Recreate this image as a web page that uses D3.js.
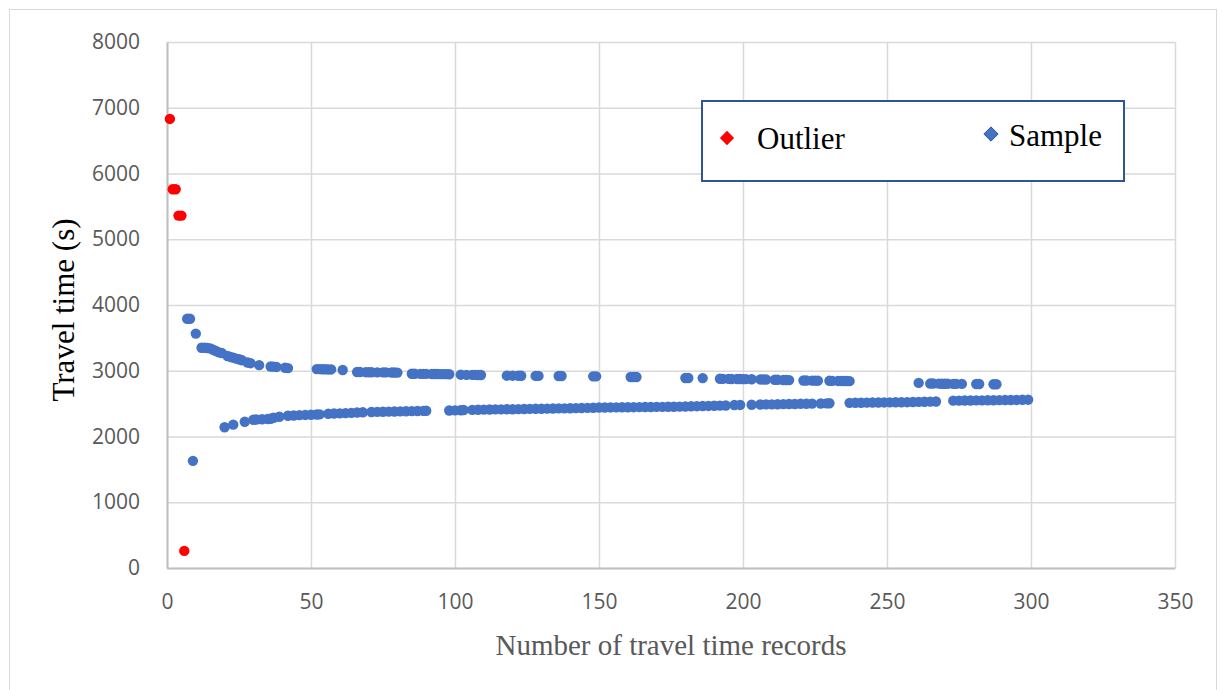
<!DOCTYPE html>
<html>
<head>
<meta charset="utf-8">
<script src="https://cdn.jsdelivr.net/npm/d3@7"></script>
<style>
  html, body { margin: 0; padding: 0; background: #ffffff; }
  svg { display: block; }
</style>
</head>
<body>
<svg id="chart" width="1223" height="690"></svg>
<script>
// Tick values
const xTicks = [0, 50, 100, 150, 200, 250, 300, 350];
const yTicks = [0, 1000, 2000, 3000, 4000, 5000, 6000, 7000, 8000];

// Outlier records
const outlierX = [1, 2, 3, 4, 5, 6];
const outlierY = [6830, 5760, 5760, 5360, 5360, 260];

// Sample records: upper branch
const upperX = [7, 8, 10, 12, 13, 14, 15, 16, 17, 18, 19, 21, 22, 23, 24, 25, 26, 28, 29, 32, 36, 37, 38, 41, 42,
  52, 53, 54, 55, 56, 57, 61, 66, 67, 69, 70, 71, 73, 75, 76, 78, 79, 80,
  85, 86, 88, 89, 90, 92, 93, 94, 95, 96, 97, 98, 102, 104, 106, 107, 108, 109,
  118, 120, 122, 123, 128, 129, 136, 137, 148, 149, 161, 162, 163, 180, 181, 186,
  192, 193, 195, 196, 198, 199, 200, 201, 203, 206, 207, 208, 211, 212, 214, 215, 216,
  221, 222, 224, 225, 226, 230, 231, 233, 234, 235, 236, 237,
  261, 265, 266, 268, 269, 270, 271, 273, 274, 276, 281, 282, 287, 288];
const upperY = [3790, 3790, 3565, 3350, 3350, 3345, 3340, 3320, 3300, 3280, 3270, 3225, 3210, 3200, 3185, 3175, 3160, 3125, 3115, 3085, 3065, 3062, 3058, 3045, 3040,
  3025, 3025, 3022, 3022, 3020, 3020, 3012, 2980, 2980, 2978, 2978, 2977, 2976, 2975, 2975, 2974, 2973, 2972,
  2955, 2955, 2953, 2952, 2952, 2950, 2950, 2950, 2949, 2948, 2948, 2947, 2940, 2938, 2937, 2937, 2936, 2935,
  2925, 2925, 2924, 2923, 2922, 2922, 2920, 2920, 2915, 2915, 2905, 2905, 2905, 2890, 2890, 2888,
  2878, 2877, 2876, 2875, 2874, 2874, 2873, 2872, 2870, 2868, 2868, 2867, 2862, 2862, 2860, 2860, 2858,
  2852, 2851, 2850, 2850, 2849, 2847, 2846, 2845, 2845, 2844, 2843, 2842,
  2815, 2805, 2805, 2804, 2803, 2802, 2802, 2801, 2800, 2800, 2798, 2798, 2795, 2795];

// Sample records: lower branch
const lowerX = [9, 20, 23, 27, 30, 31, 33, 35, 36, 37, 39,
  42, 44, 46, 48, 50, 52, 53, 56, 58, 60, 62, 64, 66, 68, 71, 73, 75, 77,
  79, 81, 83, 85, 87, 89, 90, 98, 100, 102, 103,
  106, 108, 110, 112, 114, 116, 118, 120, 122, 124, 126, 128, 130, 132, 134, 136, 138, 140,
  142, 144, 146, 148, 150, 152, 154, 156, 158, 160, 162, 164, 166, 168, 170, 172, 174, 176, 178,
  180, 182, 184, 186, 188, 190, 192, 194, 197, 199, 203, 206, 208, 210, 212, 214, 216, 218, 220,
  222, 224, 227, 229, 230, 237, 239, 241, 243, 245, 247, 249, 251, 253, 255, 257, 259, 261, 263, 265, 267,
  273, 275, 277, 279, 281, 283, 285, 287, 289, 291, 293, 295, 297, 299];
const lowerY = [1630, 2140, 2180, 2225, 2255, 2258, 2262, 2266, 2270, 2285, 2300,
  2315, 2320, 2325, 2328, 2330, 2335, 2337, 2345, 2350, 2352, 2355, 2360, 2365, 2368, 2372, 2375, 2377, 2378,
  2380, 2382, 2384, 2386, 2388, 2390, 2392, 2395, 2398, 2400, 2402,
  2405, 2407, 2409, 2410, 2412, 2413, 2414, 2415, 2416, 2418, 2420, 2421, 2422, 2424, 2425, 2427, 2428, 2430,
  2432, 2434, 2436, 2438, 2440, 2441, 2442, 2443, 2444, 2445, 2446, 2447, 2448, 2449, 2450, 2451, 2452, 2453, 2455,
  2457, 2459, 2461, 2463, 2465, 2467, 2469, 2472, 2478, 2480, 2483, 2486, 2488, 2489, 2490, 2492, 2494, 2495, 2497,
  2498, 2500, 2502, 2504, 2505, 2512, 2513, 2514, 2515, 2516, 2517, 2518, 2519, 2520, 2521, 2522, 2524, 2526, 2528, 2530, 2532,
  2545, 2546, 2547, 2548, 2549, 2550, 2551, 2552, 2553, 2554, 2555, 2556, 2558, 2560];

const svg = d3.select("#chart");
const plot = { left: 167, right: 1175, top: 42, bottom: 568 };

const x = d3.scaleLinear().domain([0, 350]).range([plot.left, plot.right]);
const y = d3.scaleLinear().domain([0, 8000]).range([plot.bottom, plot.top]);
const fmt = d3.format("d");

// Chart frame
svg.append("rect")
  .attr("x", 9.5).attr("y", 9.5)
  .attr("width", 1207).attr("height", 700)
  .attr("fill", "#ffffff")
  .attr("stroke", "#d9d9d9").attr("stroke-width", 1);

// Gridlines
const gridX = svg.append("g")
  .attr("transform", `translate(0,${plot.bottom})`)
  .call(d3.axisBottom(x).tickValues(xTicks).tickSize(-(plot.bottom - plot.top)).tickFormat(""));
gridX.select(".domain").remove();
gridX.selectAll("line").attr("stroke", "#d9d9d9").attr("stroke-width", 1.5);

const gridY = svg.append("g")
  .attr("transform", `translate(${plot.left},0)`)
  .call(d3.axisLeft(y).tickValues(yTicks).tickSize(-(plot.right - plot.left)).tickFormat(""));
gridY.select(".domain").remove();
gridY.selectAll("line").attr("stroke", "#d9d9d9").attr("stroke-width", 1.5);

// Axis lines and tick labels
const tickFont = "'Open Sans', 'Liberation Sans', sans-serif";
const axX = svg.append("g")
  .attr("transform", `translate(0,${plot.bottom})`)
  .call(d3.axisBottom(x).tickValues(xTicks).tickFormat(fmt).tickSize(0).tickPadding(26).tickSizeOuter(0));
axX.select(".domain").attr("stroke", "#bfbfbf").attr("stroke-width", 2);
axX.selectAll("text")
  .attr("fill", "#595959").attr("font-family", tickFont).attr("font-size", 21);

const axY = svg.append("g")
  .attr("transform", `translate(${plot.left},0)`)
  .call(d3.axisLeft(y).tickValues(yTicks).tickFormat(fmt).tickSize(0).tickPadding(27).tickSizeOuter(0));
axY.select(".domain").attr("stroke", "#bfbfbf").attr("stroke-width", 2);
axY.selectAll("text")
  .attr("fill", "#595959").attr("font-family", tickFont).attr("font-size", 21);

// Axis titles
const serif = "'Liberation Serif', 'Times New Roman', serif";
svg.append("text")
  .attr("x", 671).attr("y", 655)
  .attr("text-anchor", "middle")
  .attr("font-family", serif)
  .attr("font-size", 29)
  .attr("fill", "#595959")
  .text("Number of travel time records");

svg.append("text")
  .attr("transform", "translate(74,310) rotate(-90)")
  .attr("text-anchor", "middle")
  .attr("font-family", serif)
  .attr("font-size", 31)
  .attr("fill", "#000000")
  .text("Travel time (s)");

// Points
const R = 5.2;
const sampleColor = "#4472c4";
const outlierColor = "#ff0000";

const pts = (xs, ys) => xs.map((v, i) => ({ x: v, y: ys[i] }));

svg.append("g").selectAll("circle")
  .data(pts(upperX, upperY).concat(pts(lowerX, lowerY)))
  .join("circle")
  .attr("cx", d => x(d.x)).attr("cy", d => y(d.y))
  .attr("r", R).attr("fill", sampleColor);

svg.append("g").selectAll("circle")
  .data(pts(outlierX, outlierY))
  .join("circle")
  .attr("cx", d => x(d.x)).attr("cy", d => y(d.y))
  .attr("r", R).attr("fill", outlierColor);

// Legend
const legend = svg.append("g");
legend.append("rect")
  .attr("x", 702).attr("y", 101)
  .attr("width", 422).attr("height", 80)
  .attr("fill", "#ffffff")
  .attr("stroke", "#2f5597").attr("stroke-width", 2);

const diamond = d3.symbol().type(d3.symbolDiamond2).size(130);
legend.append("path")
  .attr("d", diamond())
  .attr("transform", "translate(727,138)")
  .attr("fill", outlierColor);
legend.append("text")
  .attr("x", 757).attr("y", 149)
  .attr("font-family", serif)
  .attr("font-size", 31).attr("fill", "#000000")
  .text("Outlier");

legend.append("path")
  .attr("d", diamond())
  .attr("transform", "translate(991,134)")
  .attr("fill", sampleColor)
  .attr("stroke", "#2f5597").attr("stroke-width", 1);
legend.append("text")
  .attr("x", 1009).attr("y", 146)
  .attr("font-family", serif)
  .attr("font-size", 31).attr("fill", "#000000")
  .text("Sample");
</script>
</body>
</html>
